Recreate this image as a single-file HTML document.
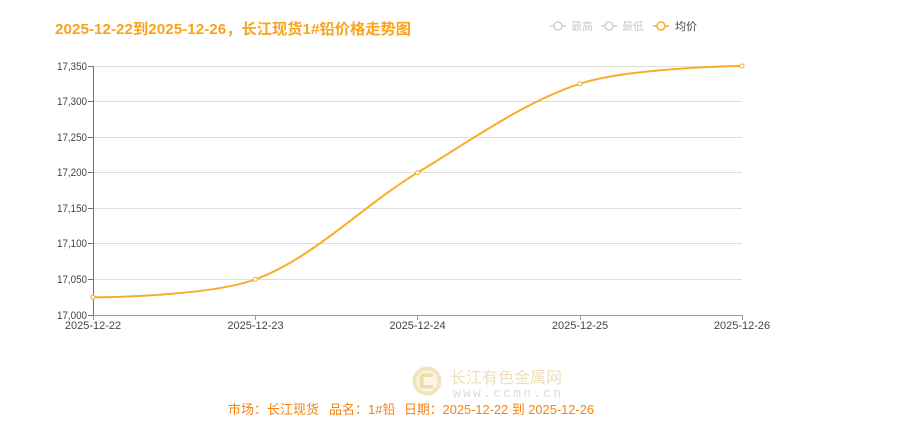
<!DOCTYPE html>
<html>
<head>
<meta charset="utf-8">
<style>
  html,body{margin:0;padding:0;background:#fff;}
  body{width:905px;height:424px;overflow:hidden;}
  svg{display:block;}
  text{font-family:"Liberation Sans","Noto Sans CJK SC",sans-serif;}
</style>
</head>
<body>
<svg width="905" height="424" viewBox="0 0 905 424" xmlns="http://www.w3.org/2000/svg">
  <!-- Title -->
  <text x="55" y="34" font-size="15" font-weight="bold" fill="#f9a31b" textLength="356" lengthAdjust="spacingAndGlyphs">2025-12-22到2025-12-26，长江现货1#铅价格走势图</text>

  <!-- Legend -->
  <g stroke-width="1.5" fill="#fff">
    <line x1="550" y1="26" x2="566" y2="26" stroke="#d0d0d0"/>
    <circle cx="558" cy="26" r="4" stroke="#d0d0d0"/>
    <line x1="601" y1="26" x2="617" y2="26" stroke="#d0d0d0"/>
    <circle cx="609" cy="26" r="4" stroke="#d0d0d0"/>
    <line x1="653" y1="26" x2="669" y2="26" stroke="#f9ac2a"/>
    <circle cx="661" cy="26" r="4" stroke="#f9ac2a"/>
  </g>
  <g font-size="11">
    <text x="571" y="30" fill="#cccccc">最高</text>
    <text x="622" y="30" fill="#cccccc">最低</text>
    <text x="675" y="30" fill="#444">均价</text>
  </g>

  <!-- Grid lines -->
  <g stroke="#dddddd" stroke-width="1">
    <line x1="93" y1="66.5" x2="742" y2="66.5"/>
    <line x1="93" y1="101.5" x2="742" y2="101.5"/>
    <line x1="93" y1="137.5" x2="742" y2="137.5"/>
    <line x1="93" y1="172.5" x2="742" y2="172.5"/>
    <line x1="93" y1="208.5" x2="742" y2="208.5"/>
    <line x1="93" y1="243.5" x2="742" y2="243.5"/>
    <line x1="93" y1="279.5" x2="742" y2="279.5"/>
  </g>

  <!-- Y axis -->
  <g stroke="#6e7079" stroke-width="1">
    <line x1="93.5" y1="66" x2="93.5" y2="315"/>
    <line x1="88" y1="66.5" x2="93" y2="66.5"/>
    <line x1="88" y1="101.5" x2="93" y2="101.5"/>
    <line x1="88" y1="137.5" x2="93" y2="137.5"/>
    <line x1="88" y1="172.5" x2="93" y2="172.5"/>
    <line x1="88" y1="208.5" x2="93" y2="208.5"/>
    <line x1="88" y1="243.5" x2="93" y2="243.5"/>
    <line x1="88" y1="279.5" x2="93" y2="279.5"/>
    <line x1="88" y1="315.5" x2="93" y2="315.5"/>
  </g>
  <g font-size="11" fill="#444" text-anchor="end">
    <text x="87" y="70" textLength="30" lengthAdjust="spacingAndGlyphs">17,350</text>
    <text x="87" y="105" textLength="30" lengthAdjust="spacingAndGlyphs">17,300</text>
    <text x="87" y="141" textLength="30" lengthAdjust="spacingAndGlyphs">17,250</text>
    <text x="87" y="176" textLength="30" lengthAdjust="spacingAndGlyphs">17,200</text>
    <text x="87" y="212" textLength="30" lengthAdjust="spacingAndGlyphs">17,150</text>
    <text x="87" y="247" textLength="30" lengthAdjust="spacingAndGlyphs">17,100</text>
    <text x="87" y="283" textLength="30" lengthAdjust="spacingAndGlyphs">17,050</text>
    <text x="87" y="319" textLength="30" lengthAdjust="spacingAndGlyphs">17,000</text>
  </g>

  <!-- X axis -->
  <g stroke="#9a9a9a" stroke-width="1">
    <line x1="93" y1="315.5" x2="742" y2="315.5"/>
    <line x1="93.5" y1="315" x2="93.5" y2="320"/>
    <line x1="255.5" y1="315" x2="255.5" y2="320"/>
    <line x1="417.5" y1="315" x2="417.5" y2="320"/>
    <line x1="580.5" y1="315" x2="580.5" y2="320"/>
    <line x1="742.5" y1="315" x2="742.5" y2="320"/>
  </g>
  <g font-size="11" fill="#444" text-anchor="middle">
    <text x="93" y="329">2025-12-22</text>
    <text x="255.5" y="329">2025-12-23</text>
    <text x="417.5" y="329">2025-12-24</text>
    <text x="580" y="329">2025-12-25</text>
    <text x="742" y="329">2025-12-26</text>
  </g>

  <!-- Series line -->
  <path d="M93,297.2 C93,297.2 206.35,297.2 255.25,279.4 C313.4,258.2 362.66,205.75 417.5,172.7 C469.75,141.2 522.85,102.5 579.75,83.8 C629.95,67.3 742,66 742,66"
        fill="none" stroke="#f9ac2a" stroke-width="2"/>
  <g fill="#fff" stroke="#f9ac2a" stroke-width="1">
    <circle cx="93" cy="297.2" r="2"/>
    <circle cx="255.25" cy="279.4" r="2"/>
    <circle cx="417.5" cy="172.7" r="2"/>
    <circle cx="579.75" cy="83.8" r="2"/>
    <circle cx="742" cy="66" r="2"/>
  </g>

  <!-- Watermark -->
  <g>
    <circle cx="427" cy="381" r="14.5" fill="#f3e4bc"/>
    <circle cx="427" cy="381" r="10.5" fill="#fbf5e6"/>
    <path d="M433,373.5 L422,373.5 L419.5,376 L419.5,386 L422,388.5 L433,388.5 L433,385 L423.5,385 L423.5,377 L433,377 Z" fill="#efdcaa"/>
    <text x="450" y="383" font-size="16" fill="#eee0bd" textLength="112" lengthAdjust="spacingAndGlyphs">长江有色金属网</text>
    <text x="453" y="397" font-size="13" fill="#dcdcdc" textLength="108" lengthAdjust="spacing" style="font-family:'Liberation Mono',monospace">www.ccmn.cn</text>
  </g>

  <!-- Bottom info -->
  <g font-size="13" fill="#f7820f">
    <text x="228" y="414">市场：长江现货</text>
    <text x="329" y="414">品名：1#铅</text>
    <text x="404" y="414" textLength="190" lengthAdjust="spacingAndGlyphs">日期：2025-12-22 到 2025-12-26</text>
  </g>
</svg>
</body>
</html>
